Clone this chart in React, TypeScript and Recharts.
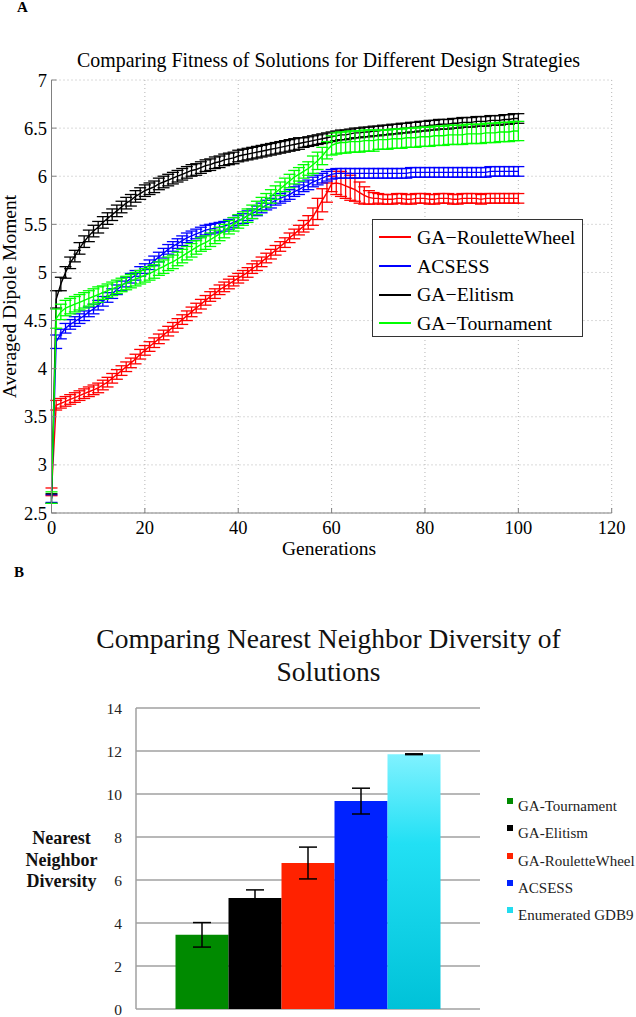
import React from 'react';
import {
  LineChart,
  Line,
  XAxis,
  YAxis,
  CartesianGrid,
  ErrorBar,
  Legend,
  BarChart,
  Bar,
} from 'recharts';

const SERIF = '"Liberation Serif", "Times New Roman", Times, serif';

// ---------- Panel A data ----------
const generations = Array.from({ length: 101 }, (_, i) => i);

const rouletteMean = [
  2.72, 3.62, 3.64, 3.66, 3.68, 3.70, 3.72, 3.74, 3.76, 3.78,
  3.80, 3.83, 3.86, 3.90, 3.94, 3.98, 4.02, 4.06, 4.10, 4.15,
  4.19, 4.23, 4.27, 4.31, 4.35, 4.39, 4.43, 4.47, 4.51, 4.55,
  4.59, 4.63, 4.67, 4.71, 4.75, 4.78, 4.82, 4.85, 4.88, 4.91,
  4.94, 4.97, 5.00, 5.04, 5.07, 5.11, 5.15, 5.19, 5.23, 5.27,
  5.31, 5.36, 5.40, 5.44, 5.48, 5.52, 5.58, 5.66, 5.75, 5.83,
  5.92, 5.93, 5.92, 5.90, 5.88, 5.86, 5.83, 5.80, 5.78, 5.77,
  5.77, 5.76, 5.76, 5.76, 5.77, 5.77, 5.76, 5.76, 5.77, 5.77,
  5.77, 5.76, 5.76, 5.77, 5.77, 5.77, 5.76, 5.76, 5.77, 5.77,
  5.77, 5.77, 5.76, 5.77, 5.77, 5.77, 5.77, 5.77, 5.77, 5.77,
  5.77,
];
const rouletteErr = [
  0.04, 0.05, 0.05, 0.05, 0.05, 0.05, 0.05, 0.05, 0.05, 0.05,
  0.05, 0.05, 0.05, 0.05, 0.05, 0.05, 0.05, 0.05, 0.05, 0.05,
  0.05, 0.05, 0.05, 0.05, 0.05, 0.05, 0.05, 0.05, 0.05, 0.05,
  0.05, 0.05, 0.05, 0.05, 0.05, 0.05, 0.05, 0.05, 0.05, 0.05,
  0.05, 0.05, 0.05, 0.05, 0.05, 0.05, 0.05, 0.05, 0.05, 0.05,
  0.05, 0.05, 0.05, 0.05, 0.06, 0.07, 0.09, 0.11, 0.12, 0.10,
  0.08, 0.12, 0.13, 0.13, 0.13, 0.12, 0.11, 0.09, 0.07, 0.06,
  0.05, 0.05, 0.05, 0.05, 0.05, 0.05, 0.05, 0.05, 0.05, 0.05,
  0.05, 0.05, 0.05, 0.05, 0.05, 0.05, 0.05, 0.05, 0.05, 0.05,
  0.05, 0.05, 0.05, 0.05, 0.05, 0.05, 0.05, 0.05, 0.05, 0.05,
  0.05,
];

const acsessMean = [
  2.65, 4.28, 4.36, 4.42, 4.46, 4.49, 4.52, 4.55, 4.59, 4.62,
  4.66, 4.70, 4.74, 4.78, 4.82, 4.86, 4.90, 4.94, 4.97, 5.01,
  5.04, 5.08, 5.12, 5.16, 5.20, 5.24, 5.27, 5.30, 5.33, 5.36,
  5.38, 5.40, 5.42, 5.44, 5.45, 5.46, 5.47, 5.48, 5.50, 5.52,
  5.54, 5.56, 5.59, 5.61, 5.64, 5.67, 5.70, 5.72, 5.75, 5.77,
  5.79, 5.81, 5.84, 5.86, 5.89, 5.91, 5.94, 5.96, 5.98, 6.00,
  6.02, 6.03, 6.03, 6.03, 6.03, 6.03, 6.03, 6.03, 6.03, 6.03,
  6.03, 6.03, 6.03, 6.03, 6.03, 6.03, 6.03, 6.04, 6.04, 6.04,
  6.04, 6.04, 6.04, 6.04, 6.04, 6.04, 6.04, 6.04, 6.04, 6.04,
  6.04, 6.04, 6.04, 6.04, 6.05, 6.05, 6.05, 6.05, 6.05, 6.05,
  6.05,
];
const acsessErr = [
  0.04, 0.07, 0.05, 0.05, 0.05, 0.05, 0.05, 0.05, 0.05, 0.05,
  0.05, 0.05, 0.05, 0.05, 0.05, 0.05, 0.05, 0.05, 0.05, 0.05,
  0.05, 0.05, 0.05, 0.05, 0.05, 0.05, 0.05, 0.05, 0.05, 0.05,
  0.05, 0.05, 0.05, 0.05, 0.05, 0.05, 0.05, 0.05, 0.05, 0.05,
  0.05, 0.05, 0.05, 0.05, 0.05, 0.05, 0.05, 0.05, 0.05, 0.05,
  0.05, 0.05, 0.05, 0.05, 0.05, 0.05, 0.05, 0.05, 0.05, 0.05,
  0.05, 0.05, 0.05, 0.05, 0.05, 0.05, 0.05, 0.05, 0.05, 0.05,
  0.05, 0.05, 0.05, 0.05, 0.05, 0.05, 0.05, 0.05, 0.05, 0.05,
  0.05, 0.05, 0.05, 0.05, 0.05, 0.05, 0.05, 0.05, 0.05, 0.05,
  0.05, 0.05, 0.05, 0.05, 0.05, 0.05, 0.05, 0.05, 0.05, 0.05,
  0.05,
];

const elitismMean = [
  2.65, 4.72, 4.88, 5.00, 5.10, 5.17, 5.25, 5.32, 5.38, 5.43,
  5.47, 5.52, 5.56, 5.60, 5.64, 5.68, 5.72, 5.75, 5.79, 5.82,
  5.85, 5.87, 5.89, 5.92, 5.94, 5.96, 5.98, 6.00, 6.02, 6.04,
  6.06, 6.07, 6.09, 6.11, 6.12, 6.14, 6.15, 6.17, 6.18, 6.19,
  6.21, 6.22, 6.23, 6.24, 6.25, 6.26, 6.27, 6.28, 6.29, 6.30,
  6.31, 6.32, 6.33, 6.34, 6.35, 6.36, 6.37, 6.38, 6.39, 6.40,
  6.41, 6.42, 6.43, 6.43, 6.44, 6.45, 6.45, 6.46, 6.46, 6.47,
  6.47, 6.48, 6.48, 6.49, 6.49, 6.50, 6.50, 6.51, 6.51, 6.52,
  6.52, 6.53, 6.53, 6.54, 6.54, 6.54, 6.55, 6.55, 6.56, 6.56,
  6.56, 6.57, 6.57, 6.57, 6.58, 6.58, 6.58, 6.59, 6.59, 6.60,
  6.60,
];
const elitismErr = [
  0.05, 0.09, 0.07, 0.06, 0.06, 0.06, 0.06, 0.06, 0.06, 0.06,
  0.06, 0.06, 0.06, 0.06, 0.06, 0.06, 0.06, 0.06, 0.06, 0.06,
  0.06, 0.06, 0.06, 0.06, 0.06, 0.06, 0.06, 0.06, 0.06, 0.06,
  0.06, 0.06, 0.06, 0.06, 0.06, 0.06, 0.06, 0.06, 0.06, 0.06,
  0.06, 0.06, 0.06, 0.06, 0.06, 0.06, 0.06, 0.06, 0.06, 0.06,
  0.06, 0.06, 0.06, 0.06, 0.05, 0.05, 0.05, 0.05, 0.05, 0.05,
  0.05, 0.05, 0.05, 0.05, 0.05, 0.05, 0.05, 0.05, 0.05, 0.05,
  0.05, 0.05, 0.05, 0.05, 0.05, 0.05, 0.05, 0.05, 0.05, 0.05,
  0.05, 0.05, 0.05, 0.05, 0.05, 0.05, 0.05, 0.05, 0.05, 0.05,
  0.05, 0.05, 0.05, 0.05, 0.05, 0.05, 0.05, 0.05, 0.05, 0.05,
  0.05,
];

const tournamentMean = [
  2.66, 4.52, 4.59, 4.63, 4.65, 4.67, 4.69, 4.71, 4.73, 4.75,
  4.77, 4.79, 4.81, 4.83, 4.85, 4.87, 4.89, 4.91, 4.93, 4.95,
  4.97, 4.99, 5.01, 5.04, 5.06, 5.09, 5.11, 5.14, 5.17, 5.20,
  5.23, 5.26, 5.29, 5.31, 5.34, 5.37, 5.40, 5.43, 5.47, 5.50,
  5.53, 5.56, 5.59, 5.63, 5.67, 5.71, 5.75, 5.79, 5.83, 5.87,
  5.91, 5.95, 5.99, 6.02, 6.05, 6.08, 6.12, 6.16, 6.21, 6.27,
  6.32, 6.34, 6.35, 6.35, 6.36, 6.36, 6.36, 6.37, 6.37, 6.37,
  6.38, 6.38, 6.38, 6.39, 6.39, 6.39, 6.40, 6.40, 6.40, 6.41,
  6.41, 6.41, 6.42, 6.42, 6.42, 6.43, 6.43, 6.43, 6.43, 6.44,
  6.44, 6.44, 6.44, 6.45, 6.45, 6.45, 6.46, 6.46, 6.46, 6.47,
  6.47,
];
const tournamentErr = [
  0.06, 0.10, 0.08, 0.08, 0.08, 0.08, 0.08, 0.08, 0.08, 0.08,
  0.08, 0.07, 0.07, 0.07, 0.07, 0.07, 0.07, 0.07, 0.07, 0.07,
  0.07, 0.07, 0.07, 0.07, 0.07, 0.07, 0.07, 0.07, 0.07, 0.07,
  0.07, 0.07, 0.07, 0.07, 0.07, 0.07, 0.07, 0.07, 0.07, 0.07,
  0.07, 0.07, 0.07, 0.07, 0.07, 0.07, 0.07, 0.07, 0.07, 0.07,
  0.07, 0.07, 0.07, 0.07, 0.07, 0.07, 0.09, 0.09, 0.09, 0.09,
  0.10, 0.11, 0.11, 0.11, 0.11, 0.11, 0.11, 0.11, 0.11, 0.11,
  0.10, 0.10, 0.10, 0.10, 0.10, 0.10, 0.10, 0.10, 0.10, 0.10,
  0.10, 0.10, 0.10, 0.10, 0.10, 0.10, 0.10, 0.10, 0.10, 0.10,
  0.10, 0.10, 0.10, 0.10, 0.10, 0.10, 0.10, 0.10, 0.10, 0.10,
  0.10,
];

const fitnessXTicks = [0, 20, 40, 60, 80, 100, 120];
const fitnessYTicks = [2.5, 3, 3.5, 4, 4.5, 5, 5.5, 6, 6.5, 7];

const fitnessSeries = [
  { key: 'roulette', name: 'GA\u2212RouletteWheel', color: '#ff0000' },
  { key: 'acsess', name: 'ACSESS', color: '#0000ff' },
  { key: 'elitism', name: 'GA\u2212Elitism', color: '#000000' },
  { key: 'tournament', name: 'GA\u2212Tournament', color: '#00ff00' },
];
const fitnessOrder = fitnessSeries.map((s) => s.key);

const fitnessRows = generations.map((g, i) => ({
  gen: g,
  roulette: rouletteMean[i],
  rouletteErr: rouletteErr[i],
  acsess: acsessMean[i],
  acsessErr: acsessErr[i],
  elitism: elitismMean[i],
  elitismErr: elitismErr[i],
  tournament: tournamentMean[i],
  tournamentErr: tournamentErr[i],
}));

// ---------- Panel B data ----------
const diversityCategory = ['Nearest Neighbor Diversity'];
const diversityKeys = ['tournament', 'elitism', 'roulette', 'acsess', 'gdb9'];
const diversityNames = ['GA-Tournament', 'GA-Elitism', 'GA-RouletteWheel', 'ACSESS', 'Enumerated GDB9'];
const diversityMean = [3.45, 5.16, 6.79, 9.67, 11.85];
const diversityErr = [0.57, 0.38, 0.74, 0.6, 0.02];
const diversityColors = ['#008a00', '#000000', '#ff2200', '#0022ff', '#22dcef'];
const diversityFills = ['#008a00', '#000000', '#ff2200', '#0022ff', 'url(#gdb9Fill)'];
const diversityTicks = [0, 2, 4, 6, 8, 10, 12, 14];

const diversityRows = diversityCategory.map((c) => {
  const row: any = { category: c };
  diversityKeys.forEach((k, i) => {
    row[k] = diversityMean[i];
    row[k + 'Err'] = diversityErr[i];
  });
  return row;
});

// ---------- Legends ----------
const FitnessLegend = (props: any) => {
  const payload = [...(props.payload || [])].sort(
    (a: any, b: any) => fitnessOrder.indexOf(a.dataKey) - fitnessOrder.indexOf(b.dataKey)
  );
  return (
    <div
      style={{
        width: 211,
        height: 118,
        boxSizing: 'border-box',
        border: '1px solid #333',
        background: '#fff',
        paddingTop: 3,
      }}
    >
      {payload.map((p: any, i: number) => (
        <div key={i} style={{ height: 28.7, display: 'flex', alignItems: 'center' }}>
          <span
            style={{
              display: 'inline-block',
              width: 32,
              height: 0,
              borderTop: `2px solid ${p.color}`,
              marginLeft: 6,
              marginRight: 6,
            }}
          />
          <span style={{ fontSize: 19.8, fontFamily: SERIF, color: '#000', whiteSpace: 'nowrap' }}>
            {p.value}
          </span>
        </div>
      ))}
    </div>
  );
};

const DiversityLegend = (props: any) => {
  const payload = [...(props.payload || [])].sort(
    (a: any, b: any) => diversityKeys.indexOf(a.dataKey) - diversityKeys.indexOf(b.dataKey)
  );
  return (
    <div style={{ width: 129, position: 'relative' }}>
      {payload.map((p: any, i: number) => (
        <div key={i} style={{ height: 27.3, position: 'relative' }}>
          <span
            style={{
              position: 'absolute',
              left: 0,
              top: 5,
              width: 6,
              height: 6,
              background: diversityColors[diversityKeys.indexOf(p.dataKey)],
            }}
          />
          <span
            style={{
              position: 'absolute',
              left: 11,
              top: 0,
              lineHeight: '27.3px',
              fontSize: 15,
              fontFamily: SERIF,
              color: '#222',
              whiteSpace: 'nowrap',
            }}
          >
            {p.value}
          </span>
        </div>
      ))}
    </div>
  );
};

const tickFontA = { fontSize: 18.5, fill: '#000', fontFamily: SERIF };
const tickFontB = { fontSize: 15.5, fill: '#222', fontFamily: SERIF };

export default function App() {
  return (
    <div
      style={{
        position: 'absolute',
        left: 0,
        top: 0,
        width: 636,
        height: 1017,
        background: '#fff',
        fontFamily: SERIF,
        overflow: 'hidden',
      }}
    >
      <style>{'html, body { margin: 0; padding: 0; overflow: hidden; }'}</style>
      {/* Panel A */}
      <div style={{ position: 'absolute', left: 0, top: 0, width: 636, height: 560 }}>
        <LineChart
          width={636}
          height={560}
          data={fitnessRows}
          margin={{ top: 80, right: 24.3, bottom: 0, left: 0 }}
        >
          <CartesianGrid stroke="#b5b5b5" strokeDasharray="1 3" />
          <XAxis
            dataKey="gen"
            type="number"
            domain={[0, 120]}
            ticks={fitnessXTicks}
            interval={0}
            height={47}
            tickSize={-5}
            tickMargin={13}
            tick={tickFontA}
            stroke="#808080"
            allowDataOverflow
          />
          <XAxis
            xAxisId="top"
            orientation="top"
            type="number"
            domain={[0, 120]}
            ticks={fitnessXTicks}
            interval={0}
            height={0}
            tickSize={-5}
            tickFormatter={() => ''}
            stroke="#808080"
            allowDataOverflow
          />
          <YAxis
            type="number"
            domain={[2.5, 7]}
            ticks={fitnessYTicks}
            interval={0}
            width={51.5}
            tickSize={-5}
            tickMargin={9.5}
            tick={tickFontA}
            stroke="#808080"
            allowDataOverflow
            label={{
              value: 'Averaged Dipole Moment',
              angle: -90,
              position: 'insideLeft',
              offset: 9,
              style: { textAnchor: 'middle', fontSize: 19.5, fill: '#000', fontFamily: SERIF },
            }}
          />
          <YAxis
            yAxisId="right"
            orientation="right"
            type="number"
            domain={[2.5, 7]}
            ticks={fitnessYTicks}
            interval={0}
            width={0}
            tickSize={-5}
            tickFormatter={() => ''}
            stroke="#808080"
            allowDataOverflow
          />
          {fitnessSeries.map((s) => (
            <Line
              key={s.key}
              dataKey={s.key}
              name={s.name}
              stroke={s.color}
              strokeWidth={1.4}
              dot={false}
              isAnimationActive={false}
            >
              <ErrorBar
                dataKey={s.key + 'Err'}
                width={6}
                stroke={s.color}
                strokeWidth={1.3}
                direction="y"
              />
            </Line>
          ))}
          <Legend
            layout="horizontal"
            verticalAlign="middle"
            align="center"
            itemSorter={(item: any) => fitnessOrder.indexOf(item.dataKey)}
            content={<FitnessLegend />}
            wrapperStyle={{ left: 372, top: 219, width: 211, height: 118 }}
          />
        </LineChart>
      </div>

      <div
        style={{
          position: 'absolute',
          left: 17,
          top: 0.4,
          fontSize: 15,
          lineHeight: '15px',
          fontWeight: 'bold',
        }}
      >
        A
      </div>
      <div
        style={{
          position: 'absolute',
          left: 28.5,
          width: 600,
          top: 51.4,
          textAlign: 'center',
          fontSize: 19.9,
          lineHeight: '19.9px',
          whiteSpace: 'nowrap',
        }}
      >
        Comparing Fitness of Solutions for Different Design Strategies
      </div>
      <div
        style={{
          position: 'absolute',
          left: 229,
          width: 200,
          top: 541.5,
          textAlign: 'center',
          fontSize: 19.5,
          lineHeight: '14px',
        }}
      >
        Generations
      </div>

      {/* Panel B */}
      <div
        style={{
          position: 'absolute',
          left: 14,
          top: 565.4,
          fontSize: 15,
          lineHeight: '15px',
          fontWeight: 'bold',
        }}
      >
        B
      </div>
      <div
        style={{
          position: 'absolute',
          left: 28.5,
          width: 600,
          top: 622.3,
          textAlign: 'center',
          fontSize: 27.5,
          lineHeight: '33px',
          color: '#111',
        }}
      >
        Comparing Nearest Neighbor Diversity of
        <br />
        Solutions
      </div>
      <div
        style={{
          position: 'absolute',
          left: 0,
          width: 123,
          top: 828,
          textAlign: 'center',
          fontSize: 18,
          lineHeight: '21.5px',
          fontWeight: 'bold',
          color: '#111',
        }}
      >
        Nearest
        <br />
        Neighbor
        <br />
        Diversity
      </div>

      <div style={{ position: 'absolute', left: 0, top: 690, width: 636, height: 327 }}>
        <BarChart
          width={636}
          height={327}
          data={diversityRows}
          margin={{ top: 18, right: 156, bottom: 8, left: 76 }}
          barGap={0}
          barCategoryGap={39.5}
        >
          <defs>
            <linearGradient id="gdb9Fill" x1="0" y1="0" x2="0" y2="1">
              <stop offset="0%" stopColor="#80f2ff" />
              <stop offset="35%" stopColor="#22e0f4" />
              <stop offset="100%" stopColor="#00c2d8" />
            </linearGradient>
          </defs>
          <CartesianGrid vertical={false} stroke="#a0a0a0" strokeWidth={1.5} />
          <XAxis dataKey="category" hide />
          <YAxis
            type="number"
            domain={[0, 14]}
            ticks={diversityTicks}
            interval={0}
            width={60}
            tickLine={false}
            tickSize={0}
            tickMargin={14}
            tick={tickFontB}
            axisLine={{ stroke: '#a0a0a0', strokeWidth: 1.5 }}
          />
          {diversityKeys.map((k, i) => (
            <Bar
              key={k}
              dataKey={k}
              name={diversityNames[i]}
              fill={diversityFills[i]}
              isAnimationActive={false}
            >
              <ErrorBar dataKey={k + 'Err'} width={9} stroke="#000" strokeWidth={1.5} direction="y" />
            </Bar>
          ))}
          <Legend
            layout="horizontal"
            verticalAlign="middle"
            align="center"
            itemSorter={(item: any) => diversityKeys.indexOf(item.dataKey)}
            content={<DiversityLegend />}
            wrapperStyle={{ left: 507, top: 103, width: 129, height: 137 }}
          />
        </BarChart>
      </div>
    </div>
  );
}
